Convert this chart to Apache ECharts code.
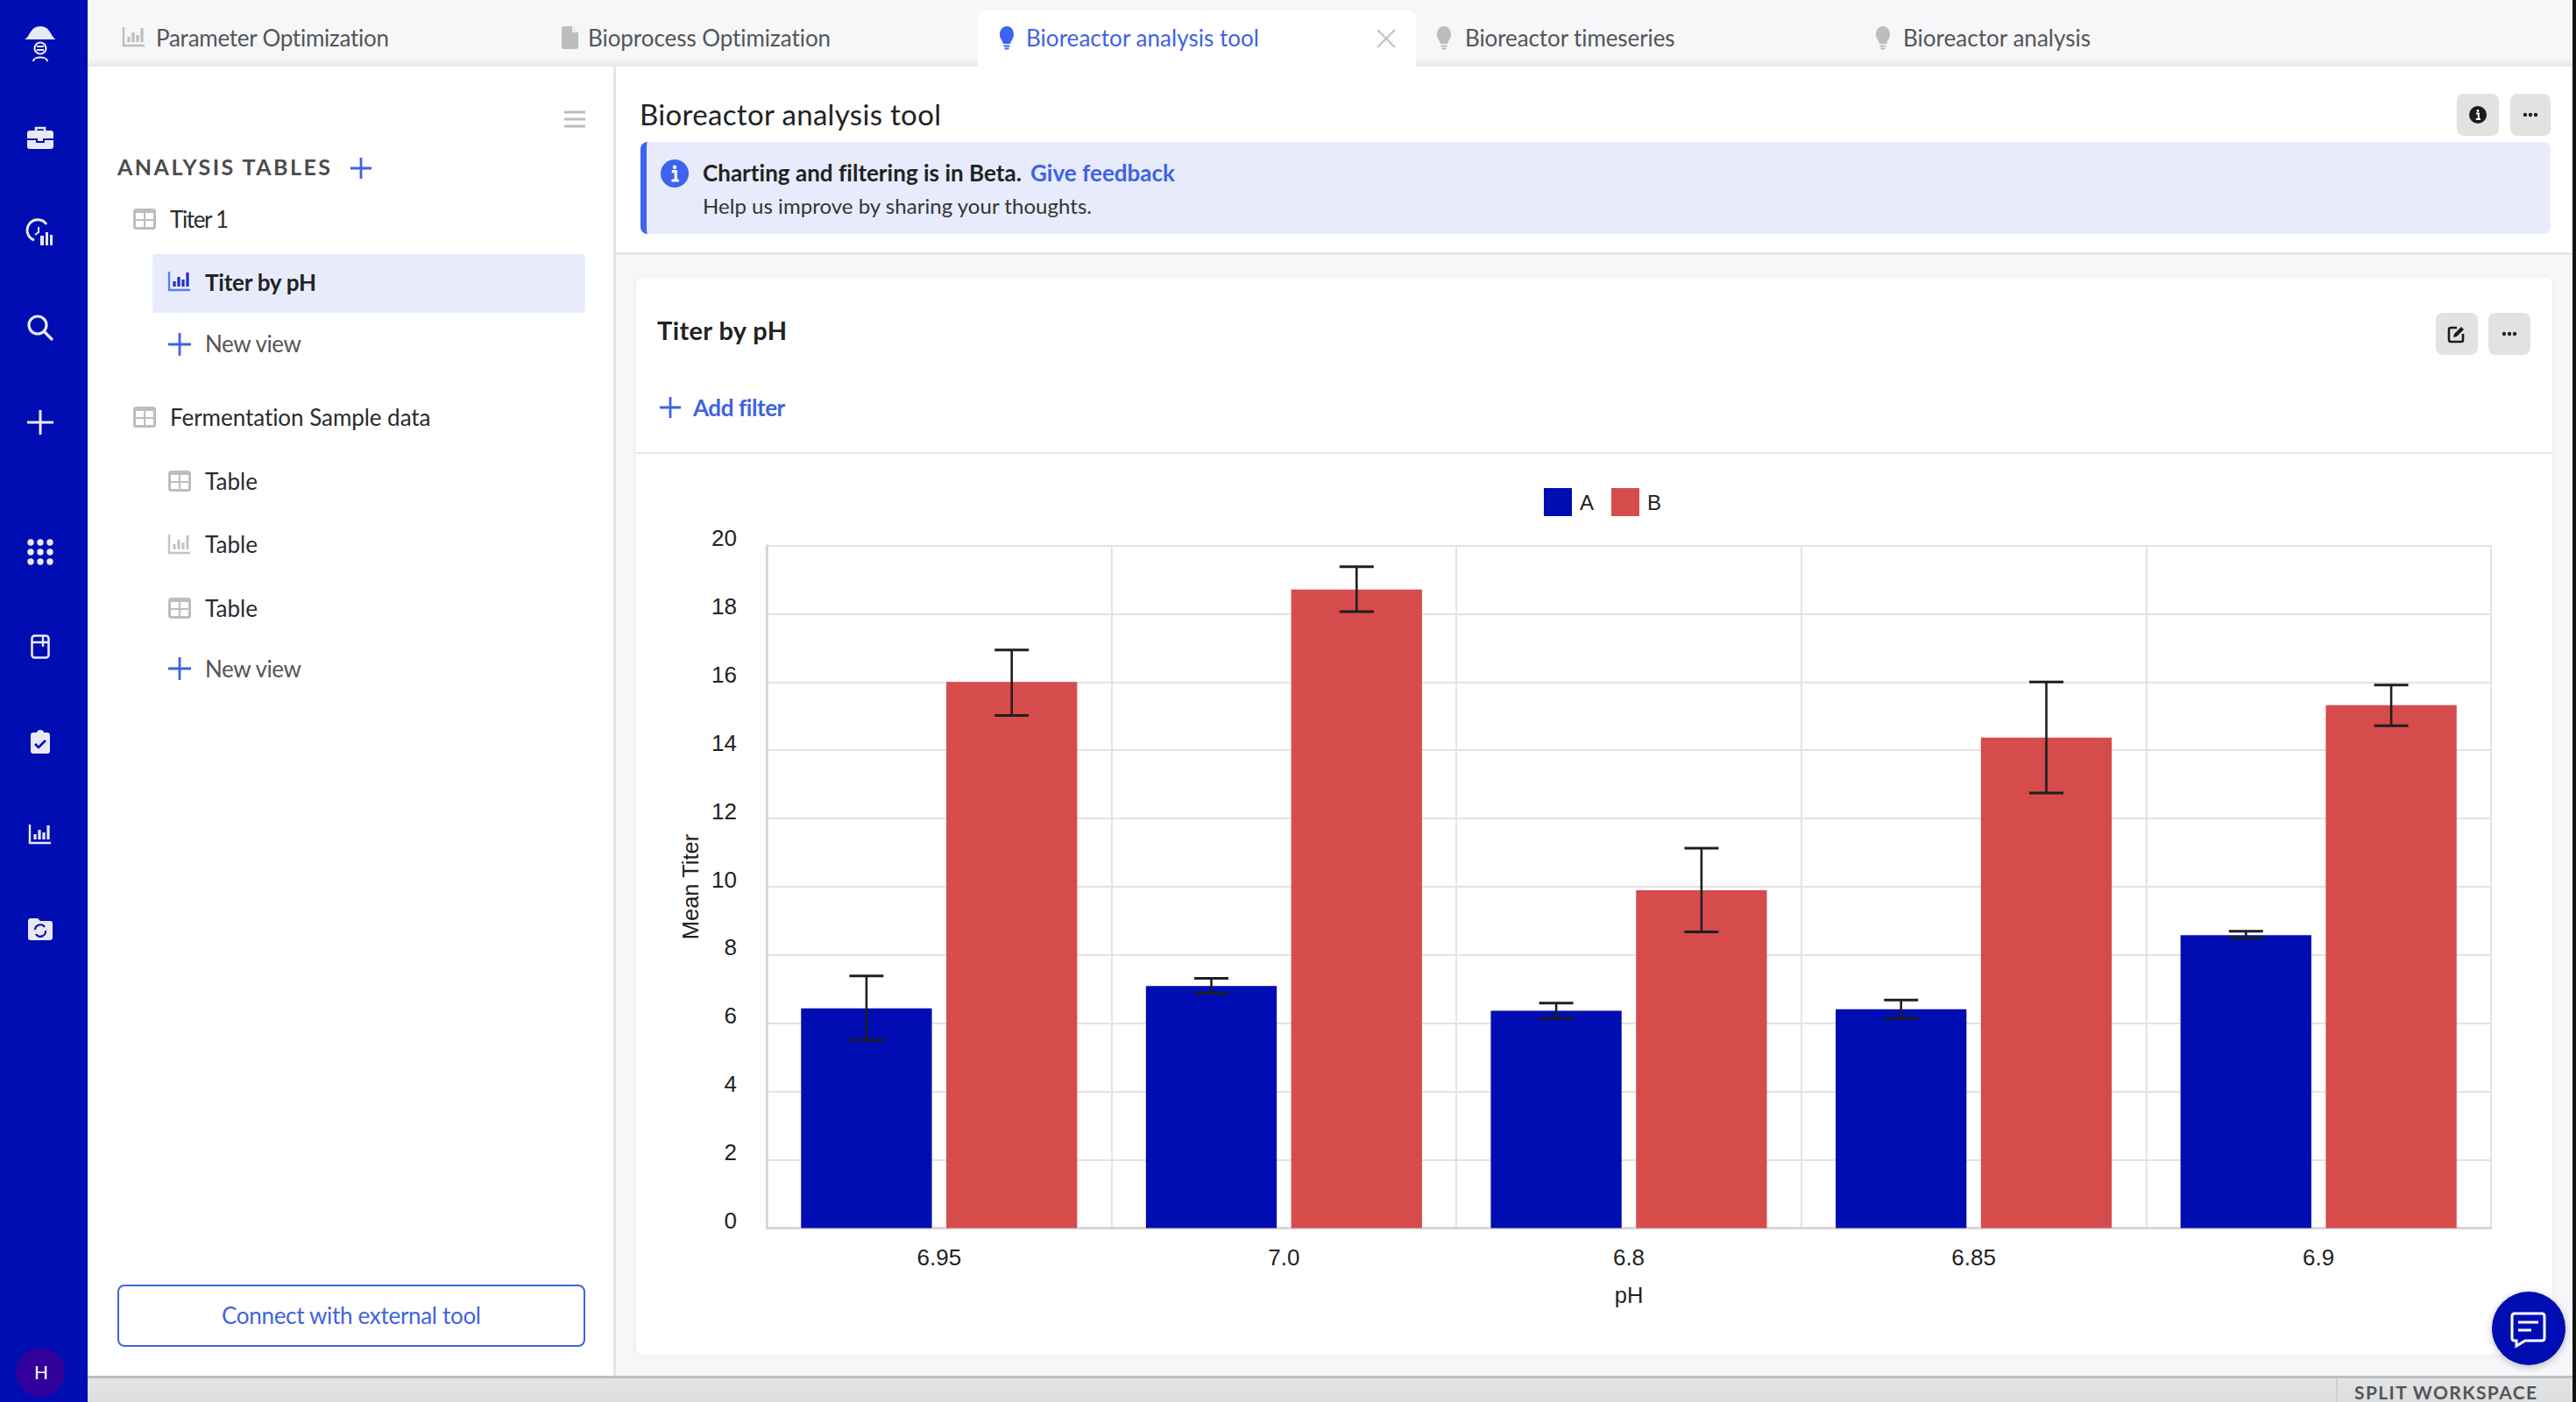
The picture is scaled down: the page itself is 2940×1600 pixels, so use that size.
<!DOCTYPE html>
<html>
<head>
<meta charset="utf-8">
<title>Bioreactor analysis tool</title>
<script src="https://cdn.jsdelivr.net/npm/echarts@6/dist/echarts.min.js"></script>
<style>
html,body{margin:0;padding:0;width:2940px;height:1600px;overflow:hidden;background:#f6f7f9;font-family:Lato,"Open Sans",sans-serif;}
.box{position:absolute;box-sizing:border-box;}
.t{position:absolute;white-space:nowrap;line-height:1;transform:translateY(-50%);}
svg.i{position:absolute;overflow:visible;}
#chart{position:absolute;left:726px;top:520px;width:2186px;height:1026px;}
</style>
</head>
<body>
<div id="ui"></div>
<div id="chart"></div>
<script>
// ---------- chart data ----------
const categories = ['6.95', '7.0', '6.8', '6.85', '6.9'];
const meanA = [6.44, 7.09, 6.37, 6.41, 8.58];
const lowA  = [5.51, 6.89, 6.14, 6.15, 8.49];
const highA = [7.39, 7.32, 6.59, 6.68, 8.70];
const meanB = [16.0, 18.71, 9.90, 14.37, 15.32];
const lowB  = [15.02, 18.06, 8.68, 12.75, 14.72];
const highB = [16.94, 19.38, 11.13, 16.0, 15.91];
const yTicks = {min: 0, max: 20, interval: 2};
const axisNames = {x: 'pH', y: 'Mean Titer'};

// ---------- page furniture ----------
const ui = document.getElementById('ui');
const BLUE = '#000db2', RED = '#d64b4c', LINK = '#3f63e0', LINKB = '#3d63f0';
function box(x, y, w, h, css) {
  const d = document.createElement('div');
  d.className = 'box';
  d.style.cssText = `left:${x}px;top:${y}px;width:${w}px;height:${h}px;${css || ''}`;
  ui.appendChild(d);
  return d;
}
function text(str, x, cy, size, color, weight, width) {
  const d = document.createElement('div');
  d.className = 't';
  d.textContent = str;
  d.style.cssText = `left:${x}px;top:${cy - 1}px;font-size:${size}px;color:${color};font-weight:${weight || 400};`;
  ui.appendChild(d);
  if (width) {
    const w = d.getBoundingClientRect().width;
    d.style.letterSpacing = ((width - w) / (str.length - 1)) + 'px';
  }
  return d;
}
function icon(cx, cy, w, h, inner) {
  ui.insertAdjacentHTML('beforeend',
    `<svg class="i" style="left:${cx - w / 2}px;top:${cy - h / 2}px" width="${w}" height="${h}" viewBox="0 0 ${w} ${h}">${inner}</svg>`);
}
const barsIcon = (c, c2) => `<path d="M2 1V22H26" fill="none" stroke="${c}" stroke-width="2.4"/><path d="M8 12v6M13 7v11M18 10v8M23 2v16" stroke="${c2 || c}" stroke-width="3.2"/>`;
const tableIcon = c => `<rect x="0" y="0" width="26" height="24" rx="3.5" fill="${c}"/><rect x="3" y="5" width="9" height="7" fill="#fff"/><rect x="14" y="5" width="9" height="7" fill="#fff"/><rect x="3" y="14" width="9" height="7" fill="#fff"/><rect x="14" y="14" width="9" height="7" fill="#fff"/>`;
const plusIcon = (c, s) => `<path d="M${s / 2} 0V${s}M0 ${s / 2}H${s}" stroke="${c}" stroke-width="2.8"/>`;
const bulbIcon = c => `<path d="M9 0C3.5 0 1 5 1 9.5C1 14 4 16 5 20H13C14 16 17 14 17 9.5C17 5 14.5 0 9 0Z" fill="${c}"/><path d="M5.5 22.5H12.5M6.5 25.5H11.5" stroke="${c}" stroke-width="2.2"/>`;
const infoIcon = (r, bg, fg) => `<circle cx="${r}" cy="${r}" r="${r}" fill="${bg}"/><circle cx="${r}" cy="${r * 0.55}" r="${r * 0.14}" fill="${fg}"/><path d="M${r * 0.8} ${r * 0.85}H${r * 1.08}V${r * 1.5}M${r * 0.78} ${r * 1.5}H${r * 1.3}" stroke="${fg}" stroke-width="${r * 0.2}" fill="none"/>`;
const dotsIcon = c => `<circle cx="3" cy="3" r="2.2" fill="${c}"/><circle cx="9" cy="3" r="2.2" fill="${c}"/><circle cx="15" cy="3" r="2.2" fill="${c}"/>`;

// backgrounds
box(100, 0, 2836, 76, 'background:#f6f7f9;');
box(100, 68, 2836, 8, 'background:linear-gradient(#f4f5f7,#e6e7e9);');
box(100, 76, 603, 1494, 'background:#fff;border-right:3px solid #e4e5e7;');
box(703, 76, 2233, 215, 'background:#fff;border-bottom:3px solid #e4e5e7;');
box(726, 317, 2187, 1229, 'background:#fff;border-radius:8px;box-shadow:0 0 8px rgba(0,0,0,.05);');
box(726, 516, 2187, 2, 'background:#e6e6e6;');
box(100, 1570, 2836, 30, 'background:linear-gradient(#e3e4e6,#dcdddf);border-top:3px solid #bcbdc0;');
box(2666, 1572, 2, 28, 'background:#cfd0d2;');
text('SPLIT WORKSPACE', 2687, 1589, 21, '#555', 700, 208);
box(0, 0, 100, 1600, `background:${BLUE};`);
box(2936, 0, 4, 1600, 'background:#111;');

// active tab
box(1116, 12, 500, 66, 'background:#fff;border-radius:8px 8px 0 0;');

// tabs
icon(153, 43, 28, 26, barsIcon('#bdbdbd'));
text('Parameter Optimization', 178, 44, 26, '#555', 400, 267);
icon(650, 43, 20, 26, '<path d="M1 3Q1 0 4 0H13L20 7V23Q20 26 17 26H4Q1 26 1 23Z" fill="#bdbdbd"/><path d="M13 0V7H20" fill="#eee"/>');
text('Bioprocess Optimization', 671, 44, 26, '#555', 400, 278);
icon(1149, 44, 18, 28, bulbIcon(LINKB));
text('Bioreactor analysis tool', 1171, 44, 26, LINK, 400, 266);
icon(1582, 44, 22, 22, '<path d="M1 1L21 21M21 1L1 21" stroke="#c4c4c4" stroke-width="2.4"/>');
icon(1648, 44, 18, 28, bulbIcon('#bdbdbd'));
text('Bioreactor timeseries', 1672, 44, 26, '#555', 400, 240);
icon(2149, 44, 18, 28, bulbIcon('#bdbdbd'));
text('Bioreactor analysis', 2172, 44, 26, '#555', 400, 214);

// sidebar icons
const S = '#e8e9f6';
icon(46, 49, 36, 44, `<path d="M0 18C6 16 6 3 18 3C30 3 30 16 36 18Z" fill="${S}"/><circle cx="18" cy="28" r="6.5" fill="none" stroke="${S}" stroke-width="2.2"/><path d="M14 26H22M14 30H22M10 43C10 37 26 37 26 43" stroke="${S}" stroke-width="2.2" fill="none"/>`);
icon(46, 158, 30, 28, `<path d="M10 5V2H20V5" fill="none" stroke="${S}" stroke-width="2.6"/><rect x="0" y="5" width="30" height="21" rx="3" fill="${S}"/><path d="M0 15H11V18H19V15H30" stroke="${BLUE}" stroke-width="2" fill="none"/>`);
icon(46, 266, 30, 30, `<path d="M22 5A12 12 0 1 0 8 23" fill="none" stroke="${S}" stroke-width="3"/><path d="M13 8V14L9 17" stroke="${S}" stroke-width="2" fill="none"/><path d="M15 18h4v11h-4zM21 14h3v15h-3zM26 17h3v12h-3z" fill="${S}"/>`);
icon(46, 374, 30, 30, `<circle cx="12" cy="12" r="10" fill="none" stroke="${S}" stroke-width="3.2"/><path d="M19 19L29 29" stroke="${S}" stroke-width="3.2"/>`);
icon(46, 482, 30, 28, `<path d="M15 0V28M0 14H30" stroke="${S}" stroke-width="3"/>`);
let dots = '';
[[0, 0], [1, 0], [2, 0], [0, 1], [1, 1], [2, 1], [0, 2], [1, 2], [2, 2]].forEach(p => dots += `<circle cx="${4 + p[0] * 11}" cy="${4 + p[1] * 11}" r="3.7" fill="${S}"/>`);
icon(46, 630, 30, 30, dots);
icon(46, 738, 22, 28, `<rect x="1.5" y="1.5" width="19" height="25" rx="3" fill="none" stroke="${S}" stroke-width="2.6"/><path d="M1.5 9H20.5M14 2V14" stroke="${S}" stroke-width="2.4"/>`);
icon(46, 846, 22, 28, `<path d="M3 4H7C7 0 15 0 15 4H19Q22 4 22 7V25Q22 28 19 28H3Q0 28 0 25V7Q0 4 3 4Z" fill="${S}"/><path d="M5 17L9 21L17 13" stroke="${BLUE}" stroke-width="2.6" fill="none"/>`);
icon(46, 952, 28, 24, barsIcon(S));
icon(46, 1061, 28, 26, `<path d="M3 0H11L14 3H25Q28 3 28 6V22Q28 25 25 25H3Q0 25 0 22V3Q0 0 3 0Z" fill="${S}"/><path d="M8 13A6 6 0 0 1 19 10M20 14A6 6 0 0 1 9 18" stroke="${BLUE}" stroke-width="2.2" fill="none"/>`);
box(18, 1538, 56, 56, 'background:#32009a;border-radius:50%;');
text('H', 39, 1566, 21, '#fff', 400);

// left panel
icon(656, 136, 24, 20, '<path d="M0 2H24M0 10H24M0 18H24" stroke="#bdbdbd" stroke-width="3"/>');
text('ANALYSIS TABLES', 134, 191, 25, '#4c4c4c', 700, 243);
icon(412, 192, 24, 24, plusIcon(LINK, 24));
icon(165, 250, 26, 24, tableIcon('#bdbdbd'));
text('Titer 1', 194, 251, 26, '#2b2b2b', 400, 67);
box(174, 290, 494, 67, 'background:#e8ebfc;border-radius:4px;');
icon(205, 321, 28, 24, barsIcon('#5b7cf0', '#1d2fc0'));
text('Titer by pH', 234, 323, 26, '#222', 700, 127);
icon(205, 393, 26, 26, plusIcon(LINK, 26));
text('New view', 234, 393, 26, '#555', 400, 110);
icon(165, 476, 26, 24, tableIcon('#bdbdbd'));
text('Fermentation Sample data', 194, 477, 26, '#2b2b2b', 400, 298);
icon(205, 549, 26, 24, tableIcon('#bdbdbd'));
text('Table', 234, 550, 26, '#2b2b2b', 400, 60);
icon(205, 621, 28, 24, barsIcon('#c4c4c4'));
text('Table', 234, 622, 26, '#2b2b2b', 400, 60);
icon(205, 694, 26, 24, tableIcon('#bdbdbd'));
text('Table', 234, 695, 26, '#2b2b2b', 400, 60);
icon(205, 763, 26, 26, plusIcon(LINK, 26));
text('New view', 234, 764, 26, '#555', 400, 110);
box(134, 1466, 534, 71, `border:2.6px solid ${LINK};border-radius:8px;background:#fff;`);
text('Connect with external tool', 253, 1502, 26, LINK, 400, 296);

// header
text('Bioreactor analysis tool', 730, 131, 33, '#222', 400, 344);
box(2804, 107, 48, 48, 'background:#e2e2e2;border-radius:8px;');
icon(2828, 131, 20, 20, infoIcon(10, '#1c1c1c', '#fff'));
box(2865, 107, 46, 48, 'background:#e2e2e2;border-radius:8px;');
icon(2888, 131, 18, 6, dotsIcon('#222'));

// banner
box(731, 162, 2180, 105, `background:#e8ebfc;border-left:7px solid ${LINKB};border-radius:8px;`);
icon(770, 198, 32, 32, infoIcon(16, LINKB, '#fff'));
text('Charting and filtering is in Beta.', 802, 198, 26, '#222', 700, 364);
text('Give feedback', 1176, 198, 26, LINK, 700, 165);
text('Help us improve by sharing your thoughts.', 802, 236, 24, '#333', 400, 444);

// card header
text('Titer by pH', 750, 377, 29, '#222', 700, 148);
box(2780, 357, 48, 48, 'background:#e2e2e2;border-radius:8px;');
icon(2804, 381, 20, 20, '<path d="M10 3H3Q1 3 1 5V17Q1 19 3 19H15Q17 19 17 17V10" fill="none" stroke="#1c1c1c" stroke-width="2.6"/><path d="M6 14L7 10L15 2L18 5L10 13Z" fill="#1c1c1c"/>');
box(2840, 357, 48, 48, 'background:#e2e2e2;border-radius:8px;');
icon(2864, 381, 18, 6, dotsIcon('#222'));
icon(765, 465, 24, 24, plusIcon(LINK, 24));
text('Add filter', 791, 466, 26, LINK, 700, 105);

// chat button (above the chart)
const chat = document.createElement('div');
chat.className = 'box';
chat.style.cssText = `left:2844px;top:1474px;width:84px;height:84px;border-radius:50%;background:${BLUE};box-shadow:0 2px 8px rgba(0,0,0,.25);z-index:5;`;
chat.innerHTML = '<svg width="84" height="84" style="position:absolute;left:0;top:0"><path d="M26 25H57Q60 25 60 28V53Q60 56 57 56H38L28 62V56H26Q23 56 23 53V28Q23 25 26 25Z" fill="none" stroke="#fff" stroke-width="3"/><path d="M30 35H53" stroke="#fff" stroke-width="3"/><path d="M30 44H45" stroke="#fff" stroke-width="3"/></svg>';
document.body.appendChild(chat);

// ---------- chart ----------
const BAR_WIDTH = 149.3, BAR_GAP = 0.1105;
const BAR_OFFSET = BAR_WIDTH * (1 + BAR_GAP) / 2;
const CHART_FONT = '"Liberation Sans", Arial, sans-serif';

function errorBars(name, low, high, sign) {
  return {
    name: name,
    type: 'custom',
    silent: true,
    z: 5,
    data: categories.map((c, i) => [i, low[i], high[i]]),
    encode: {x: 0, y: [1, 2]},
    renderItem: function (params, api) {
      const lo = api.coord([api.value(0), api.value(1)]);
      const hi = api.coord([api.value(0), api.value(2)]);
      const x = lo[0] + sign * BAR_OFFSET;
      const cap = 19.5;
      const stroke = {stroke: '#1f1f1f', lineWidth: 2.6};
      const capStroke = {stroke: '#1f1f1f', lineWidth: 3};
      return {
        type: 'group',
        children: [
          {type: 'line', shape: {x1: x, y1: lo[1], x2: x, y2: hi[1]}, style: stroke},
          {type: 'line', shape: {x1: x - cap, y1: lo[1], x2: x + cap, y2: lo[1]}, style: capStroke},
          {type: 'line', shape: {x1: x - cap, y1: hi[1], x2: x + cap, y2: hi[1]}, style: capStroke}
        ]
      };
    }
  };
}

const chart = echarts.init(document.getElementById('chart'), null, {renderer: 'svg'});
chart.setOption({
  animation: false,
  backgroundColor: 'transparent',
  textStyle: {fontFamily: CHART_FONT},
  legend: {
    data: ['A', 'B'],
    left: 1036,
    top: 37,
    icon: 'rect',
    itemWidth: 32,
    itemHeight: 32,
    itemGap: 20,
    padding: 0,
    textStyle: {fontFamily: CHART_FONT, fontSize: 24, color: '#222', padding: [0, 0, 0, 4]},
    selectedMode: false
  },
  grid: {left: 149, top: 102.5, width: 1968, height: 779, containLabel: false},
  xAxis: {
    type: 'category',
    data: categories,
    name: axisNames.x,
    nameLocation: 'middle',
    nameGap: 63,
    nameTextStyle: {fontFamily: CHART_FONT, fontSize: 25.5, color: '#222'},
    axisTick: {show: false},
    axisLine: {show: true, lineStyle: {color: '#d2d2d2', width: 2.5}},
    axisLabel: {show: true, interval: 0, margin: 20, fontFamily: CHART_FONT, fontSize: 26, color: '#222'},
    splitLine: {show: true, interval: 0, lineStyle: {color: '#e4e4e4', width: 2}}
  },
  yAxis: {
    type: 'value',
    min: yTicks.min,
    max: yTicks.max,
    interval: yTicks.interval,
    name: axisNames.y,
    nameLocation: 'middle',
    nameGap: 69,
    nameRotate: 90,
    nameTextStyle: {fontFamily: CHART_FONT, fontSize: 25.5, color: '#222'},
    axisTick: {show: false},
    axisLine: {show: true, lineStyle: {color: '#d2d2d2', width: 2.5}},
    axisLabel: {margin: 34, fontFamily: CHART_FONT, fontSize: 26, color: '#222', verticalAlign: 'bottom', lineHeight: 17},
    splitLine: {show: true, lineStyle: {color: '#e3e3e3', width: 2}}
  },
  series: [
    {name: 'A', type: 'bar', data: meanA, barWidth: BAR_WIDTH, barGap: (BAR_GAP * 100) + '%', itemStyle: {color: BLUE}, silent: true},
    {name: 'B', type: 'bar', data: meanB, barWidth: BAR_WIDTH, barGap: (BAR_GAP * 100) + '%', itemStyle: {color: RED}, silent: true},
    errorBars('A error', lowA, highA, -1),
    errorBars('B error', lowB, highB, 1)
  ]
});
</script>
</body>
</html>
